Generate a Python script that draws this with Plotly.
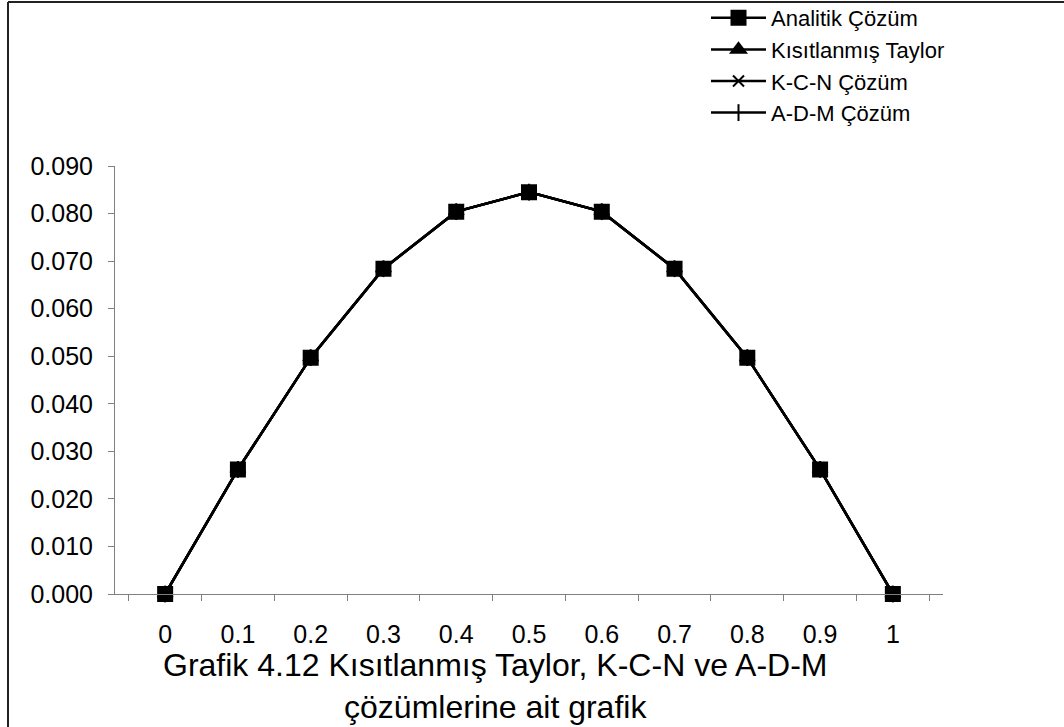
import plotly.graph_objects as go

x_labels = ["0", "0.1", "0.2", "0.3", "0.4", "0.5", "0.6", "0.7", "0.8", "0.9", "1"]
analitik = [0.0, 0.0262, 0.0497, 0.0684, 0.0804, 0.0845, 0.0804, 0.0684, 0.0497, 0.0262, 0.0]
kisitlanmis = [0.0, 0.0262, 0.0497, 0.0684, 0.0804, 0.0845, 0.0804, 0.0684, 0.0497, 0.0262, 0.0]
kcn = [0.0, 0.0262, 0.0497, 0.0684, 0.0804, 0.0845, 0.0804, 0.0684, 0.0497, 0.0262, 0.0]
adm = [0.0, 0.0262, 0.0497, 0.0684, 0.0804, 0.0845, 0.0804, 0.0684, 0.0497, 0.0262, 0.0]
y_ticks = [0.0, 0.01, 0.02, 0.03, 0.04, 0.05, 0.06, 0.07, 0.08, 0.09]

W, H = 1064, 727
L, R, T, B = 115, 1064 - 943, 166, 727 - 594
pw, ph = W - L - R, H - T - B

def px(xp):
    return (xp - L) / pw

def py(yp):
    return (H - B - yp) / ph

fig = go.Figure()
series = [
    ("Analitik Çözüm", analitik, "square", 14, 1),
    ("Kısıtlanmış Taylor", kisitlanmis, "triangle-up", 13, 2),
    ("K-C-N Çözüm", kcn, "x-thin-open", 11, 3),
    ("A-D-M Çözüm", adm, "line-ns-open", 12, 4),
]
for name, vals, sym, sz, rank in reversed(series):
    fig.add_trace(go.Scatter(
        x=x_labels, y=vals, name=name, mode="lines+markers",
        line=dict(color="black", width=2.5),
        marker=dict(symbol=sym, size=sz, color="black",
                    line=dict(color="black", width=2)),
        legendrank=rank, cliponaxis=False,
    ))

fig.update_layout(
    width=W, height=H,
    margin=dict(l=L, r=R, t=T, b=B, autoexpand=False),
    paper_bgcolor="white", plot_bgcolor="white",
    font=dict(family="Liberation Sans, Arial, sans-serif", size=25, color="black"),
    showlegend=True,
    legend=dict(x=px(706), y=py(-3), xanchor="left", yanchor="top",
                bgcolor="rgba(0,0,0,0)", font=dict(size=22),
                itemwidth=55, tracegroupgap=0),
    xaxis=dict(type="category", showline=True, linecolor="#808080", linewidth=1,
               ticks="outside", ticklen=6, tickcolor="#808080", tickson="boundaries",
               showgrid=False, zeroline=False, ticklabelstandoff=18,
               tickfont=dict(size=25)),
    yaxis=dict(range=[0, 0.09], tickvals=y_ticks, tickformat=".3f",
               showline=True, linecolor="#808080", linewidth=1,
               ticks="outside", ticklen=6, tickcolor="#808080",
               ticklabelstandoff=10,
               showgrid=False, zeroline=False, tickfont=dict(size=25)),
    shapes=[
        dict(type="line", xref="paper", yref="paper", x0=px(8), x1=px(1070),
             y0=py(2), y1=py(2), line=dict(color="#222222", width=2)),
        dict(type="line", xref="paper", yref="paper", x0=px(8), x1=px(8),
             y0=py(2), y1=py(730), line=dict(color="#222222", width=2)),
    ],
    annotations=[
        dict(text="Grafik 4.12 Kısıtlanmış Taylor, K-C-N ve A-D-M<br>çözümlerine ait grafik",
             xref="paper", yref="paper", x=px(495), y=py(645), xanchor="center",
             yanchor="top", showarrow=False, font=dict(size=32), align="center"),
    ],
)

fig.write_html("out.html")
